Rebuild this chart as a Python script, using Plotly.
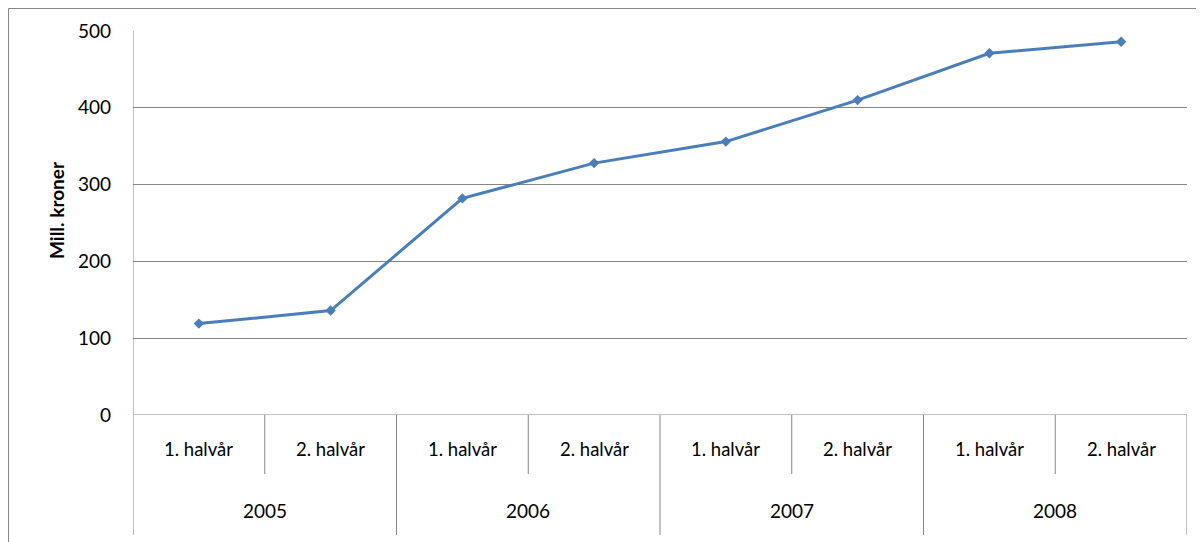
import plotly.graph_objects as go

years = ["2005", "2006", "2007", "2008"]
halves = ["1. halvår", "2. halvår"]
values = [119, 136, 282, 328, 356, 410, 471, 486]
y_ticks = [0, 100, 200, 300, 400, 500]
y_title = "Mill. kroner"

n = len(years) * len(halves)
xpos = [i + 0.5 for i in range(n)]

FONT = "Lato, Open Sans, sans-serif"
GRID = "#868686"

fig = go.Figure()
fig.add_trace(go.Scatter(
    x=xpos, y=values, mode="lines+markers",
    line=dict(color="#4A7EBB", width=3),
    marker=dict(symbol="diamond", size=8, color="#4A7EBB"),
    showlegend=False, hoverinfo="y",
))

OFF = 8  # page body margin
W, H = 1204 - OFF, 542 - OFF
L, R, T, B = 133 - OFF, 17, 31 - OFF, 127
ph = H - T - B
pw = W - L - R

def py(screen_y):
    return 1 - (screen_y - OFF - T) / ph

def px(screen_x):
    return (screen_x - OFF - L) / pw

shapes = []
# outer chart border
shapes.append(dict(type="rect", xref="paper", yref="paper",
                   x0=px(8.5), x1=px(1220), y0=py(560), y1=py(8.5),
                   line=dict(color=GRID, width=1), layer="below"))
# left axis line extended down through category area
shapes.append(dict(type="line", xref="x", yref="paper", x0=0, x1=0,
                   y0=py(535), y1=1, line=dict(color=GRID, width=1)))
# category separators
for i in range(1, n + 1):
    outer = (i % len(halves) == 0)
    shapes.append(dict(type="line", xref="x", yref="paper", x0=i, x1=i,
                       y0=py(535) if outer else py(474), y1=0,
                       line=dict(color=GRID, width=1)))

annotations = []
for i in range(n):
    annotations.append(dict(x=xpos[i], y=py(449), xref="x", yref="paper",
                            xanchor="center", yanchor="middle",
                            text=halves[i % len(halves)], showarrow=False,
                            font=dict(family=FONT, size=18.5, color="#000")))
for j, yr in enumerate(years):
    annotations.append(dict(x=j * len(halves) + len(halves) / 2, y=py(510),
                            xref="x", yref="paper", xanchor="center",
                            yanchor="middle", text=yr, showarrow=False,
                            font=dict(family=FONT, size=19, color="#000")))
annotations.append(dict(x=px(57), y=py(210), xref="paper", yref="paper",
                        xanchor="center", yanchor="middle",
                        text="<b>" + y_title + "</b>", textangle=-90,
                        showarrow=False,
                        font=dict(family=FONT, size=19, color="#000")))

fig.update_layout(
    width=W, height=H,
    margin=dict(l=L, r=R, t=T, b=B),
    paper_bgcolor="white", plot_bgcolor="white",
    xaxis=dict(range=[0, n], showgrid=False, showticklabels=False,
               zeroline=False, showline=False, fixedrange=True),
    yaxis=dict(range=[0, 500], tickvals=y_ticks, showgrid=True,
               gridcolor=GRID, gridwidth=1, zeroline=False,
               showline=False, ticks="", ticklabelstandoff=21,
               tickfont=dict(family=FONT, size=19, color="#000")),
    shapes=shapes, annotations=annotations,
    font=dict(family=FONT),
)
fig.add_hline(y=0, line=dict(color=GRID, width=1))

fig.write_html("out.html")
